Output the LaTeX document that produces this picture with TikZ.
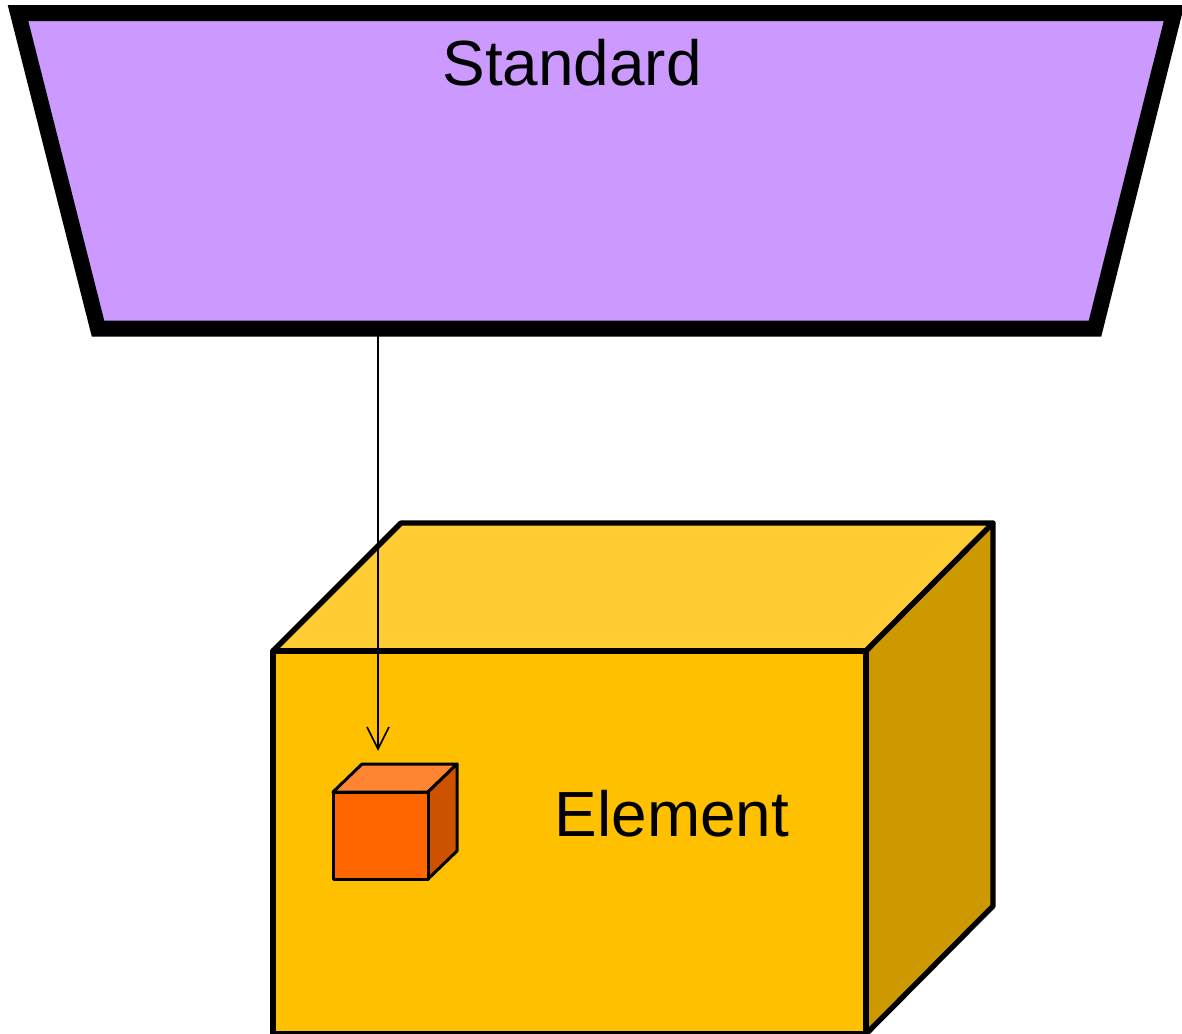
\documentclass[tikz,border=0pt]{standalone}
\usepackage{fontspec}
\setmainfont{Liberation Sans}
\definecolor{stdfill}{HTML}{CC99FF}
\definecolor{boxfront}{HTML}{FFC000}
\definecolor{boxtop}{HTML}{FFCC33}
\definecolor{boxside}{HTML}{CC9900}
\definecolor{cubefront}{HTML}{FF6600}
\definecolor{cubetop}{HTML}{FF8533}
\definecolor{cubeside}{HTML}{CC5200}
\tikzset{
	bigface/.style={draw=black,line width=0.16cm,line join=round},
	smallface/.style={draw=black,line width=0.09cm,line join=round},
	bigtext/.style={inner sep=0pt,font=\fontsize{54.5}{54.5}\selectfont}
}
\begin{document}
\begin{tikzpicture}[x=0.03cm,y=-0.03cm]
	\useasboundingbox (0,0) rectangle (1182,1033);
	% standard
	\draw[draw=black,fill=stdfill,line width=0.48cm,line join=miter] (18,13) -- (1174,13) -- (1095,328.5) -- (98,328.5) -- cycle;
	\node[bigtext] (standard) at (572,63) {Standard};
	% element
	\draw[bigface,fill=boxtop] (273,651) -- (401,523) -- (993,523) -- (866,651) -- cycle;
	\draw[bigface,fill=boxside] (866,651) -- (993,523) -- (993,906) -- (866,1034) -- cycle;
	\draw[bigface,fill=boxfront] (273,651) rectangle (866,1034);
	\node[bigtext] (element) at (672,814) {Element};
	% part inside
	\draw[smallface,fill=cubetop] (333,792) -- (362,764) -- (457,764) -- (428,792) -- cycle;
	\draw[smallface,fill=cubeside] (428,792) -- (457,764) -- (457,851) -- (428,879) -- cycle;
	\draw[smallface,fill=cubefront] (333,792) rectangle (428,879);
	\coordinate (from) at (378,335);
	\coordinate (to) at (378,749);
	\draw[line width=0.05cm] (from) -- (to);
	\draw[line width=0.05cm] (367,727) -- (to) -- (389,727);
\end{tikzpicture}
\end{document}
